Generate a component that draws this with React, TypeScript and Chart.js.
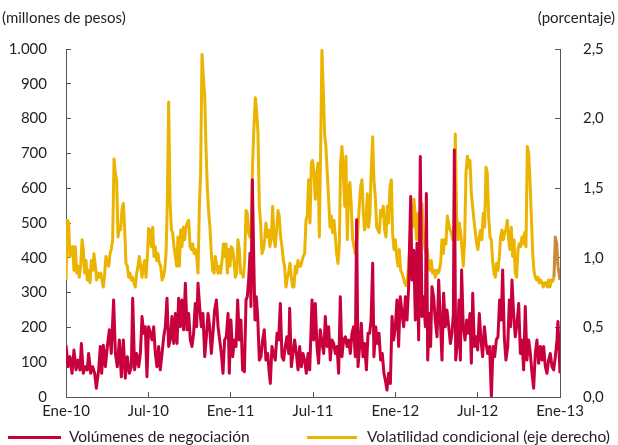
import { useEffect, useRef } from "react";
import { Chart, registerables } from "chart.js";

Chart.register(...registerables);

// ---- Volúmenes de negociación (millones de pesos); time in months since Jan 2010 ----
const volumeMonths = [
  0.0, 0.15, 0.29, 0.44, 0.58, 0.73, 0.87, 1.02, 1.12, 1.26,
  1.41, 1.55, 1.65, 1.8, 1.94, 2.09, 2.21, 2.38, 2.5, 2.6,
  2.72, 2.87, 3.01, 3.16, 3.3, 3.47, 3.6, 3.74, 3.89, 4.03,
  4.18, 4.32, 4.47, 4.62, 4.76, 4.86, 5.0, 5.15, 5.3, 5.42,
  5.54, 5.66, 5.78, 5.9, 6.02, 6.15, 6.27, 6.39, 6.51, 6.63,
  6.75, 6.87, 7.0, 7.12, 7.24, 7.36, 7.48, 7.6, 7.72, 7.85,
  7.97, 8.09, 8.21, 8.33, 8.45, 8.57, 8.7, 8.82, 8.94, 9.06,
  9.18, 9.3, 9.42, 9.52, 9.62, 9.74, 9.86, 9.98, 10.11, 10.23,
  10.35, 10.47, 10.59, 10.71, 10.83, 10.96, 11.08, 11.2, 11.32, 11.44,
  11.56, 11.68, 11.81, 11.9, 12.02, 12.15, 12.27, 12.39, 12.51, 12.63,
  12.75, 12.87, 13.0, 13.12, 13.21, 13.31, 13.41, 13.48, 13.58, 13.68,
  13.77, 13.87, 13.97, 14.09, 14.21, 14.33, 14.45, 14.57, 14.7, 14.79,
  14.89, 15.01, 15.13, 15.25, 15.38, 15.5, 15.62, 15.74, 15.86, 15.98,
  16.1, 16.23, 16.3, 16.42, 16.54, 16.66, 16.79, 16.91, 17.03, 17.15,
  17.27, 17.39, 17.51, 17.64, 17.76, 17.93, 18.05, 18.17, 18.29, 18.41,
  18.53, 18.66, 18.78, 18.9, 19.02, 19.14, 19.26, 19.38, 19.51, 19.63,
  19.75, 19.87, 19.99, 20.11, 20.23, 20.36, 20.48, 20.6, 20.72, 20.84,
  20.96, 21.08, 21.18, 21.28, 21.4, 21.52, 21.64, 21.76, 21.89, 22.01,
  22.13, 22.23, 22.35, 22.44, 22.57, 22.69, 22.81, 22.93, 23.05, 23.17,
  23.27, 23.39, 23.51, 23.64, 23.76, 23.88, 24.0, 24.12, 24.24, 24.36,
  24.49, 24.61, 24.73, 24.85, 24.97, 25.12, 25.21, 25.34, 25.46, 25.58,
  25.7, 25.82, 25.94, 26.06, 26.19, 26.26, 26.36, 26.48, 26.57, 26.67,
  26.79, 26.91, 27.04, 27.16, 27.28, 27.4, 27.52, 27.64, 27.76, 27.89,
  28.01, 28.13, 28.23, 28.3, 28.4, 28.52, 28.64, 28.74, 28.83, 28.95,
  29.08, 29.2, 29.32, 29.44, 29.54, 29.64, 29.76, 29.88, 30.0, 30.12,
  30.24, 30.36, 30.49, 30.61, 30.73, 30.87, 31.0, 31.12, 31.24, 31.36,
  31.48, 31.6, 31.72, 31.82, 31.94, 32.06, 32.19, 32.31, 32.4, 32.5,
  32.62, 32.74, 32.87, 32.99, 33.11, 33.23, 33.35, 33.47, 33.59, 33.72,
  33.84, 33.96, 34.08, 34.2, 34.32, 34.44, 34.57, 34.69, 34.81, 34.93,
  35.05, 35.17, 35.29, 35.42, 35.54, 35.66, 35.78, 35.85, 36.0,
];
const volumes = [
  149, 87, 116, 68, 135, 78, 106, 78, 154, 68,
  87, 78, 125, 68, 87, 68, 25, 78, 145, 68,
  149, 87, 145, 193, 125, 279, 125, 87, 164, 58,
  164, 54, 116, 68, 87, 284, 78, 125, 87, 125,
  231, 183, 202, 58, 202, 183, 164, 202, 125, 87,
  145, 78, 125, 173, 202, 284, 145, 164, 231, 154,
  240, 154, 284, 202, 279, 193, 327, 193, 240, 164,
  145, 183, 269, 202, 327, 260, 202, 240, 116, 173,
  240, 202, 125, 183, 250, 279, 202, 164, 125, 68,
  164, 173, 240, 68, 221, 116, 164, 145, 279, 164,
  221, 78, 73, 279, 288, 336, 413, 260, 624, 403,
  221, 288, 231, 106, 116, 164, 193, 106, 125, 78,
  39, 145, 125, 106, 183, 164, 269, 116, 106, 145,
  173, 125, 255, 87, 125, 164, 125, 78, 145, 87,
  125, 106, 68, 125, 78, 279, 164, 269, 145, 97,
  193, 154, 125, 231, 145, 202, 106, 164, 154, 125,
  145, 68, 288, 116, 164, 173, 145, 164, 125, 183,
  202, 116, 509, 87, 145, 212, 116, 154, 78, 183,
  183, 221, 384, 116, 202, 154, 183, 106, 125, 68,
  49, 20, 68, 39, 231, 164, 202, 279, 145, 288,
  240, 202, 288, 221, 317, 576, 336, 422, 221, 442,
  164, 691, 231, 288, 202, 585, 106, 240, 145, 317,
  288, 221, 173, 336, 221, 106, 298, 202, 250, 202,
  154, 183, 240, 710, 106, 154, 279, 106, 365, 202,
  164, 221, 183, 240, 97, 298, 145, 173, 135, 240,
  164, 116, 202, 154, 125, 145, 1, 145, 116, 164,
  173, 279, 221, 365, 173, 106, 145, 279, 202, 336,
  240, 173, 212, 269, 125, 164, 78, 260, 106, 164,
  125, 68, 25, 125, 164, 97, 145, 106, 145, 87,
  68, 106, 125, 87, 78, 116, 164, 217, 68,
];

// ---- Volatilidad condicional (porcentaje) ----
const volatilityMonths = [
  0.0, 0.1, 0.19, 0.29, 0.39, 0.49, 0.58, 0.68, 0.78, 0.87,
  0.97, 1.07, 1.17, 1.26, 1.36, 1.46, 1.55, 1.65, 1.75, 1.85,
  1.94, 2.04, 2.14, 2.23, 2.33, 2.43, 2.53, 2.62, 2.72, 2.82,
  2.91, 3.01, 3.11, 3.21, 3.3, 3.4, 3.5, 3.59, 3.69, 3.79,
  3.89, 3.98, 4.08, 4.18, 4.27, 4.37, 4.47, 4.57, 4.66, 4.76,
  4.86, 4.95, 5.05, 5.15, 5.25, 5.34, 5.44, 5.54, 5.64, 5.73,
  5.83, 5.93, 6.02, 6.12, 6.22, 6.32, 6.41, 6.51, 6.61, 6.7,
  6.8, 6.9, 7.0, 7.09, 7.19, 7.29, 7.38, 7.48, 7.58, 7.68,
  7.77, 7.87, 7.97, 8.06, 8.16, 8.26, 8.36, 8.45, 8.55, 8.65,
  8.74, 8.84, 8.94, 9.04, 9.13, 9.23, 9.33, 9.43, 9.52, 9.62,
  9.72, 9.81, 9.91, 10.01, 10.11, 10.2, 10.3, 10.4, 10.49, 10.59,
  10.69, 10.79, 10.88, 10.98, 11.08, 11.17, 11.27, 11.37, 11.47, 11.56,
  11.66, 11.76, 11.85, 11.95, 12.05, 12.15, 12.24, 12.34, 12.44, 12.53,
  12.63, 12.73, 12.83, 12.92, 13.02, 13.12, 13.21, 13.31, 13.41, 13.5,
  13.6, 13.7, 13.8, 13.89, 13.99, 14.09, 14.18, 14.28, 14.38, 14.48,
  14.57, 14.67, 14.77, 14.86, 14.96, 15.06, 15.16, 15.25, 15.35, 15.45,
  15.54, 15.64, 15.74, 15.84, 15.93, 16.03, 16.13, 16.22, 16.32, 16.42,
  16.52, 16.61, 16.71, 16.81, 16.9, 17.0, 17.1, 17.2, 17.29, 17.39,
  17.49, 17.58, 17.68, 17.78, 17.88, 17.97, 18.07, 18.17, 18.26, 18.36,
  18.46, 18.56, 18.65, 18.75, 18.85, 18.94, 19.04, 19.14, 19.24, 19.33,
  19.43, 19.53, 19.63, 19.72, 19.82, 19.92, 20.01, 20.11, 20.21, 20.31,
  20.4, 20.5, 20.6, 20.69, 20.79, 20.89, 20.99, 21.08, 21.18, 21.28,
  21.37, 21.47, 21.57, 21.67, 21.76, 21.86, 21.96, 22.05, 22.15, 22.25,
  22.35, 22.44, 22.54, 22.64, 22.73, 22.83, 22.93, 23.03, 23.12, 23.22,
  23.32, 23.41, 23.51, 23.61, 23.71, 23.8, 23.9, 24.0, 24.1, 24.19,
  24.29, 24.39, 24.48, 24.58, 24.68, 24.78, 24.87, 24.97, 25.07, 25.16,
  25.26, 25.36, 25.46, 25.55, 25.65, 25.75, 25.84, 25.94, 26.04, 26.14,
  26.23, 26.33, 26.43, 26.52, 26.62, 26.72, 26.82, 26.91, 27.01, 27.11,
  27.2, 27.3, 27.4, 27.5, 27.59, 27.69, 27.79, 27.88, 27.98, 28.08,
  28.18, 28.27, 28.37, 28.47, 28.57, 28.66, 28.76, 28.86, 28.95, 29.05,
  29.15, 29.25, 29.34, 29.44, 29.54, 29.63, 29.73, 29.83, 29.93, 30.02,
  30.12, 30.22, 30.31, 30.41, 30.51, 30.61, 30.7, 30.8, 30.9, 30.99,
  31.09, 31.19, 31.29, 31.38, 31.48, 31.58, 31.67, 31.77, 31.87, 31.97,
  32.06, 32.16, 32.26, 32.35, 32.45, 32.55, 32.65, 32.74, 32.84, 32.94,
  33.03, 33.13, 33.23, 33.33, 33.42, 33.52, 33.62, 33.72, 33.81, 33.91,
  34.01, 34.1, 34.2, 34.3, 34.4, 34.49, 34.59, 34.69, 34.78, 34.88,
  34.98, 35.08, 35.17, 35.27, 35.37, 35.46, 35.56, 35.66, 35.76, 35.85,
  36.0,
];
const volatility = [
  0.84, 1.27, 1.25, 1.01, 1.06, 1.08, 0.91, 1.08, 0.89, 0.94,
  0.86, 0.94, 1.13, 1.06, 0.89, 0.98, 0.84, 0.91, 0.82, 0.98,
  0.91, 1.03, 0.94, 0.84, 0.89, 0.86, 0.89, 0.84, 0.79, 0.89,
  1.01, 0.96, 0.94, 1.03, 1.06, 1.13, 1.71, 1.61, 1.56, 1.15,
  1.22, 1.2, 1.35, 1.39, 1.22, 0.96, 0.94, 0.86, 0.89, 0.84,
  0.86, 0.82, 0.79, 0.89, 0.94, 1.01, 0.94, 0.86, 0.94, 0.98,
  0.86, 1.01, 1.21, 1.2, 1.08, 1.22, 1.01, 1.08, 0.98, 1.03,
  0.96, 0.94, 0.84, 0.86, 0.91, 1.03, 1.37, 2.12, 1.42, 1.2,
  1.18, 1.08, 1.01, 0.94, 1.15, 0.94, 1.2, 1.08, 1.22, 1.13,
  1.22, 1.25, 1.27, 1.08, 1.06, 1.1, 1.03, 1.06, 1.01, 0.89,
  1.37, 1.61, 2.46, 2.3, 2.16, 1.8, 1.5, 1.32, 1.22, 1.03,
  0.91, 0.89, 1.01, 0.94, 0.89, 0.94, 0.89, 0.98, 1.1, 1.01,
  1.1, 0.89, 1.06, 0.94, 1.08, 1.06, 0.98, 0.86, 0.89, 1.13,
  1.06, 0.89, 0.89, 0.86, 0.98, 1.34, 1.32, 1.18, 1.15, 1.22,
  1.68, 1.95, 2.15, 2.05, 1.9, 1.37, 1.25, 1.03, 1.06, 1.13,
  1.25, 1.15, 1.2, 1.08, 1.15, 1.37, 1.13, 1.08, 1.2, 1.34,
  1.3, 1.15, 1.08, 0.98, 0.94, 0.79, 0.86, 0.89, 0.96, 0.86,
  0.79, 0.79, 0.94, 0.89, 0.98, 0.94, 0.94, 0.98, 1.01, 1.03,
  1.27, 1.3, 1.56, 1.25, 1.68, 1.7, 1.61, 1.42, 1.58, 1.68,
  1.15, 1.8, 2.49, 2.2, 1.88, 1.8, 1.61, 1.42, 1.22, 1.3,
  1.18, 1.27, 1.15, 1.03, 0.96, 1.1, 1.68, 1.8, 1.61, 1.37,
  1.73, 1.13, 1.49, 1.54, 1.37, 1.13, 1.08, 1.03, 1.08, 1.22,
  1.37, 1.51, 1.56, 1.32, 1.2, 1.25, 1.46, 1.22, 1.32, 1.65,
  1.87, 1.56, 1.44, 1.22, 1.2, 1.18, 1.34, 1.3, 1.37, 1.2,
  1.15, 1.37, 1.25, 1.51, 1.56, 1.18, 1.06, 1.13, 1.01, 0.94,
  1.06, 0.91, 0.89, 0.86, 0.82, 0.8, 0.84, 0.94, 1.13, 1.37,
  1.22, 1.42, 1.27, 1.13, 1.32, 1.13, 1.2, 1.39, 1.18, 1.08,
  1.03, 1.06, 0.94, 0.91, 0.98, 0.89, 0.91, 0.86, 0.91, 0.89,
  0.91, 0.96, 1.13, 1.03, 1.13, 1.1, 1.3, 1.25, 1.2, 1.18,
  1.13, 1.25, 1.89, 1.3, 1.13, 1.25, 1.18, 1.06, 0.94, 1.13,
  1.61, 1.73, 1.65, 1.7, 1.46, 1.37, 1.27, 1.18, 1.1, 1.06,
  1.15, 1.2, 1.13, 1.32, 1.22, 1.65, 1.61, 1.3, 1.15, 1.13,
  0.98, 0.89, 0.86, 0.96, 0.91, 1.01, 1.15, 1.2, 1.13, 1.18,
  1.2, 1.27, 1.13, 1.06, 1.22, 1.01, 1.13, 0.89, 0.86, 1.06,
  1.1, 1.08, 1.15, 1.1, 1.18, 1.08, 1.8, 1.75, 1.56, 1.3,
  1.03, 0.91, 0.86, 0.84, 0.86, 0.82, 0.84, 0.82, 0.79, 0.82,
  0.82, 0.79, 0.84, 0.79, 0.84, 0.83, 0.86, 1.15, 1.1, 0.94,
  0.84,
];

const xTickLabels = ["Ene-10", "Jul-10", "Ene-11", "Jul-11", "Ene-12", "Jul-12", "Ene-13"];
const seriesNames = ["Volúmenes de negociación", "Volatilidad condicional (eje derecho)"];
const leftAxisTitle = "(millones de pesos)";
const rightAxisTitle = "(porcentaje)";

const RED = "#C8003C";
const YELLOW = "#EAB400";
const BROWN = "#C98A3A";
const TEXT = "#231F20";
const AXIS = "#555555";
const FONT = "Lato, 'Open Sans', sans-serif";

export default function App() {
  const ref = useRef<HTMLCanvasElement | null>(null);

  useEffect(() => {
    if (!ref.current) return;
    const n = volatility.length;
    const decor = {
      id: "decor",
      afterDraw(chart: any) {
        const ctx = chart.ctx;
        ctx.save();
        ctx.font = `15px ${FONT}`;
        ctx.fillStyle = TEXT;
        ctx.textBaseline = "middle";
        ctx.textAlign = "left";
        ctx.fillText(leftAxisTitle, 2, 18);
        ctx.textAlign = "right";
        ctx.fillText(rightAxisTitle, 615, 18);
        // legend
        ctx.lineWidth = 3;
        ctx.strokeStyle = RED;
        ctx.beginPath();
        ctx.moveTo(8, 437.5);
        ctx.lineTo(61, 437.5);
        ctx.stroke();
        ctx.strokeStyle = YELLOW;
        ctx.beginPath();
        ctx.moveTo(307, 437.5);
        ctx.lineTo(357, 437.5);
        ctx.stroke();
        ctx.font = `15.5px ${FONT}`;
        ctx.textAlign = "left";
        ctx.fillText(seriesNames[0], 69, 437);
        ctx.fillText(seriesNames[1], 367, 437);
        ctx.restore();
      },
    };

    const chart = new Chart(ref.current, {
      type: "line",
      data: {
        datasets: [
          {
            label: seriesNames[0],
            data: volumeMonths.map((m, i) => ({ x: m, y: volumes[i] })),
            borderColor: RED,
            backgroundColor: RED,
            borderWidth: 3,
            pointRadius: 0,
            borderJoinStyle: "round",
            yAxisID: "y",
            order: 0,
          },
          {
            label: seriesNames[1],
            data: volatilityMonths.map((m, i) => ({ x: m, y: volatility[i] })),
            borderColor: YELLOW,
            backgroundColor: YELLOW,
            borderWidth: 3,
            pointRadius: 0,
            borderJoinStyle: "round",
            yAxisID: "y1",
            order: 1,
            segment: {
              borderColor: (c: any) => (c.p0DataIndex >= n - 5 ? BROWN : undefined),
            },
          },
        ],
      },
      options: {
        responsive: false,
        animation: false,
        layout: { padding: { top: 49, left: 0, right: 0, bottom: 0 } },
        plugins: { legend: { display: false }, tooltip: { enabled: false } },
        scales: {
          x: {
            type: "linear",
            min: 0,
            max: 36,
            afterFit: (s: any) => {
              s.height = 48;
            },
            afterBuildTicks: (s: any) => {
              s.ticks = xTickLabels.map((_, i) => ({ value: i * 6 }));
            },
            ticks: {
              autoSkip: false,
              maxRotation: 0,
              padding: 10,
              color: TEXT,
              font: { family: FONT, size: 15 },
              callback: (v: any) => xTickLabels[Math.round(Number(v) / 6)],
            },
            grid: { drawOnChartArea: false, drawTicks: true, tickLength: -5, color: AXIS },
            border: { color: AXIS, width: 1 },
          },
          y: {
            position: "left",
            min: 0,
            max: 1000,
            afterFit: (s: any) => {
              s.width = 66;
            },
            ticks: {
              stepSize: 100,
              padding: 24,
              color: TEXT,
              font: { family: FONT, size: 15 },
              callback: (v: any) => String(v).replace(/\B(?=(\d{3})+(?!\d))/g, "."),
            },
            grid: { drawOnChartArea: false, drawTicks: true, tickLength: -5, color: AXIS },
            border: { color: AXIS, width: 1 },
          },
          y1: {
            position: "right",
            min: 0,
            max: 2.5,
            afterFit: (s: any) => {
              s.width = 58;
            },
            ticks: {
              stepSize: 0.5,
              padding: 28,
              color: TEXT,
              font: { family: FONT, size: 15 },
              callback: (v: any) => Number(v).toFixed(1).replace(".", ","),
            },
            grid: { drawOnChartArea: false, drawTicks: true, tickLength: -5, color: AXIS },
            border: { color: AXIS, width: 1 },
          },
        },
      },
      plugins: [decor],
    } as any);
    return () => chart.destroy();
  }, []);

  return (
    <div style={{ position: "absolute", left: 0, top: 0, width: 618, height: 445, background: "#fff" }}>
      <canvas ref={ref} width={618} height={445} style={{ width: 618, height: 445, display: "block" }} />
    </div>
  );
}
